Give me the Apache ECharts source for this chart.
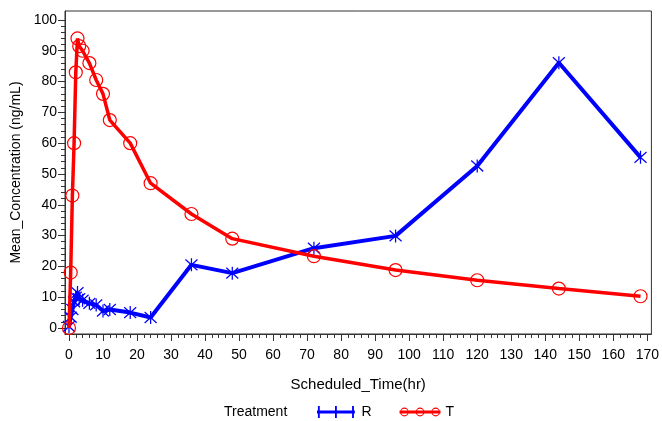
<!DOCTYPE html>
<html>
<head>
<meta charset="utf-8">
<script src="https://cdn.jsdelivr.net/npm/echarts@6/dist/echarts.min.js"></script>
<style>
html,body{margin:0;padding:0;background:#fff;}
#c{width:662px;height:421px;}
</style>
</head>
<body>
<div id="c"></div>
<script>
// ---- data ----
var times = [0, 0.5, 1, 1.5, 2, 2.5, 3, 4, 6, 8, 10, 12, 18, 24, 36, 48, 72, 96, 120, 144, 168];
var seriesR = [0.5, 3.5, 6, 8.5, 10, 11.5, 9.5, 9, 8, 7.5, 5.5, 6, 5, 3.4, 20.5, 17.8, 25.9, 29.9, 52.6, 86.1, 55.4];
var seriesT = [0, 18, 43, 60, 83, 94, 91.5, 90, 86, 80.5, 76, 67.5, 60, 47, 37, 29, 23.3, 18.8, 15.5, 12.8, 10.3];
var xTicks = [0, 10, 20, 30, 40, 50, 60, 70, 80, 90, 100, 110, 120, 130, 140, 150, 160, 170];
var yTicks = [0, 10, 20, 30, 40, 50, 60, 70, 80, 90, 100];
var treatmentNames = ['R', 'T'];
var legendTitle = 'Treatment';
var xTitle = 'Scheduled_Time(hr)';
var yTitle = 'Mean_Concentration (ng/mL)';

// minor tick positions (every 2 units)
var xMinor = [], yMinor = [];
for (var i = 0; i <= 170; i += 2) { if (xTicks.indexOf(i) < 0) xMinor.push(i); }
for (var j = 0; j <= 100; j += 2) { if (yTicks.indexOf(j) < 0) yMinor.push(j); }

function pairs(xs, ys) { return xs.map(function (x, k) { return [x, ys[k]]; }); }

var FONT = '"Liberation Sans", Arial, sans-serif';
var TXT = '#000';
var AX = '#333';
var xMin = -1.17, xMax = 171.2, yMin = -1.95, yMax = 102.9;

var asterisk = 'path://M5,0 L5,12 M0,1 L10,11 M0,11 L10,1';
var legendR = 'path://M0,5 L41,5 L41,8 L0,8 Z M1,0 L3,0 L3,13 L1,13 Z M19.5,0 L21.5,0 L21.5,13 L19.5,13 Z M38,0 L40,0 L40,13 L38,13 Z';
var legendT = 'path://M0,5 L42,5 L42,8 L0,8 Z ' +
  'M0.5,6.5 A4.5,4.5 0 1 1 9.5,6.5 A4.5,4.5 0 1 1 0.5,6.5 Z M1.6,6.5 A3.4,3.4 0 1 0 8.4,6.5 A3.4,3.4 0 1 0 1.6,6.5 Z ' +
  'M16.5,6.5 A4.5,4.5 0 1 1 25.5,6.5 A4.5,4.5 0 1 1 16.5,6.5 Z M17.6,6.5 A3.4,3.4 0 1 0 24.4,6.5 A3.4,3.4 0 1 0 17.6,6.5 Z ' +
  'M32.5,6.5 A4.5,4.5 0 1 1 41.5,6.5 A4.5,4.5 0 1 1 32.5,6.5 Z M33.6,6.5 A3.4,3.4 0 1 0 40.4,6.5 A3.4,3.4 0 1 0 33.6,6.5 Z';

var chart = echarts.init(document.getElementById('c'), null, { renderer: 'canvas' });
chart.setOption({
  animation: false,
  backgroundColor: '#fff',
  textStyle: { fontFamily: FONT },
  grid: { left: 65, right: 8, top: 11, bottom: 87, show: true, borderColor: AX, borderWidth: 1, backgroundColor: 'transparent' },
  graphic: [{
    type: 'text', left: 224, top: 405,
    style: { text: legendTitle, font: '14px ' + FONT, fill: TXT }
  }],
  legend: {
    left: 312, top: 400, itemWidth: 41, itemHeight: 12, itemGap: 28,
    textStyle: { fontSize: 14, color: TXT, fontFamily: FONT },
    data: [
      { name: treatmentNames[0], icon: legendR, itemStyle: { color: '#0000ff', borderWidth: 0 } },
      { name: treatmentNames[1], icon: legendT, itemStyle: { color: '#ff0000', borderWidth: 0 } }
    ]
  },
  xAxis: [{
    type: 'value', min: xMin, max: xMax, position: 'bottom',
    name: xTitle, nameLocation: 'middle', nameGap: 43,
    nameTextStyle: { fontSize: 15, color: TXT, fontFamily: FONT },
    axisLine: { show: true, onZero: false, lineStyle: { color: AX, width: 1 } },
    axisTick: { show: true, length: 7, customValues: xTicks, lineStyle: { color: AX } },
    axisLabel: { show: true, customValues: xTicks, margin: 14, fontSize: 14, color: TXT, fontFamily: FONT },
    splitLine: { show: false }
  }, {
    type: 'value', min: xMin, max: xMax, position: 'bottom', offset: 0,
    axisLine: { show: false, onZero: false },
    axisTick: { show: true, length: 4, customValues: xMinor, lineStyle: { color: AX } },
    axisLabel: { show: false },
    splitLine: { show: false }
  }],
  yAxis: [{
    type: 'value', min: yMin, max: yMax, position: 'left',
    name: yTitle, nameLocation: 'middle', nameGap: 38,
    nameTextStyle: { fontSize: 14, color: TXT, fontFamily: FONT },
    axisLine: { show: true, onZero: false, lineStyle: { color: AX, width: 1 } },
    axisTick: { show: true, length: 7, customValues: yTicks, lineStyle: { color: AX } },
    axisLabel: { show: true, customValues: yTicks, margin: 8, fontSize: 14, color: TXT, fontFamily: FONT },
    splitLine: { show: false }
  }, {
    type: 'value', min: yMin, max: yMax, position: 'left', offset: 0,
    axisLine: { show: false, onZero: false },
    axisTick: { show: true, length: 4, customValues: yMinor, lineStyle: { color: AX } },
    axisLabel: { show: false },
    splitLine: { show: false }
  }],
  series: [{
    name: treatmentNames[0], type: 'line', xAxisIndex: 0, yAxisIndex: 0,
    data: pairs(times, seriesR),
    symbol: asterisk, symbolSize: [12, 13], showAllSymbol: true,
    lineStyle: { color: '#0000ff', width: 4 },
    itemStyle: { color: 'none', borderColor: '#0000ff', borderWidth: 1.3 },
    z: 2
  }, {
    name: treatmentNames[1], type: 'line', xAxisIndex: 0, yAxisIndex: 0,
    data: pairs(times, seriesT),
    symbol: 'circle', symbolSize: 13, showAllSymbol: true,
    lineStyle: { color: '#ff0000', width: 3.5 },
    itemStyle: { color: 'none', borderColor: '#ff0000', borderWidth: 1.2 },
    z: 3
  }]
});
</script>
</body>
</html>
